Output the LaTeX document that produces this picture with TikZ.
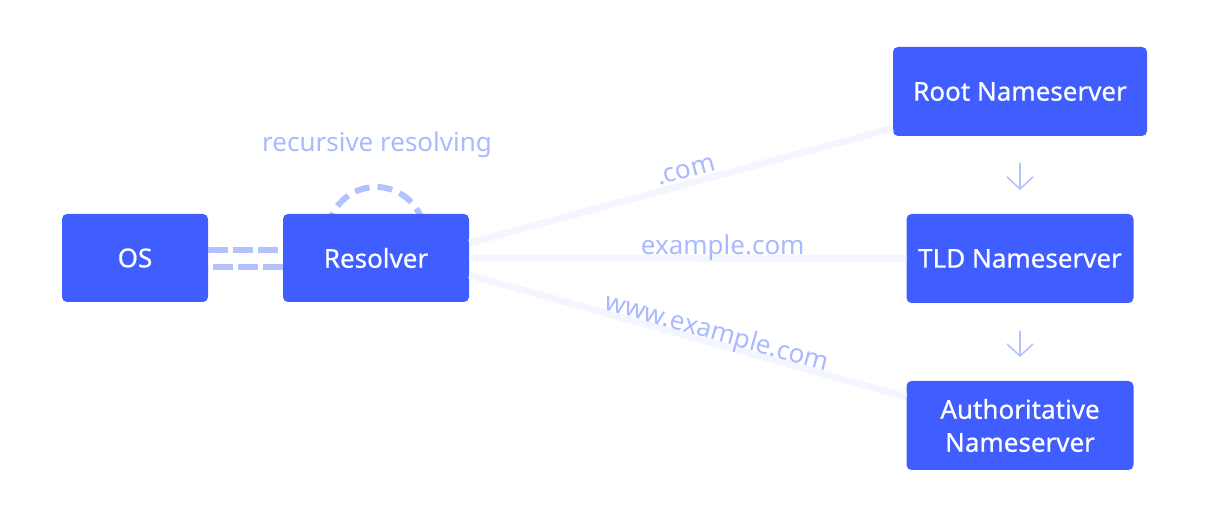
\documentclass[tikz,border=0pt]{standalone}
\usepackage{fontspec}
\setmainfont{Noto Sans}
\newfontfamily\boxfont{Noto Sans}[FakeBold=0.6]
\usetikzlibrary{arrows.meta}
\definecolor{boxblue}{RGB}{64,94,255}
\definecolor{linelight}{RGB}{243,246,255}
\definecolor{dashc}{RGB}{179,193,255}
\definecolor{labelc}{RGB}{170,185,255}
\begin{document}
\begin{tikzpicture}[x=1pt,y=-1pt,
  box/.style={fill=boxblue,rounded corners=5pt,text=white,font=\boxfont\fontsize{26}{33}\selectfont,align=center,inner sep=0pt},
  conn/.style={draw=linelight,line width=7pt},
  dconn/.style={draw=dashc,line width=6pt,dash pattern=on 20pt off 5pt},
  lbl/.style={text=labelc,font=\fontsize{26}{30}\selectfont,inner sep=0pt},
  small/.style={draw=dashc,line width=1.5pt,-{Straight Barb[length=12pt,width=26pt]}}]
\useasboundingbox (0,0) rectangle (1208,518);
% arc behind resolver
\draw[dconn,dash pattern=on 15pt off 8pt] (376,235.5) circle (48.5);
\node[box,minimum width=146pt,minimum height=88pt] (os) at (135,258) {OS};
\node[box,minimum width=186pt,minimum height=88pt] (res) at (376,258) {Resolver};
\node[box,minimum width=254pt,minimum height=89pt] (root) at (1020,91.5) {Root Nameserver};
\node[box,minimum width=227pt,minimum height=89pt] (tld) at (1020,258.5) {TLD Nameserver};
\node[box,minimum width=227pt,minimum height=89pt] (auth) at (1020,425.5) {Authoritative\\Nameserver};
\draw[conn] ([yshift=15pt]res.east) -- ([yshift=8pt]root.south west) node[pos=0.52,sloped,anchor=base,yshift=6pt,lbl] {.com};
\draw[conn] (res.east) -- (tld.west) node[pos=0.58,anchor=base,yshift=4pt,lbl] {example.com};
\draw[conn] ([yshift=-17pt]res.east) -- ([yshift=28.5pt]auth.west) node[pos=0.56,sloped,anchor=base,yshift=3pt,lbl] {www.example.com};
\draw[dconn] ([yshift=8pt]os.east) -- ([yshift=8pt]res.west);
\draw[dconn,dash phase=20pt] ([yshift=-9pt]os.east) -- ([yshift=-9pt]res.west);
\node[lbl] (rr) at (377,145) {recursive resolving};
\coordinate (a1) at (1020,163); \coordinate (a2) at (1020,190);
\coordinate (b1) at (1020,331); \coordinate (b2) at (1020,357);
\draw[small] (a1) -- (a2);
\draw[small] (b1) -- (b2);
\end{tikzpicture}
\end{document}
